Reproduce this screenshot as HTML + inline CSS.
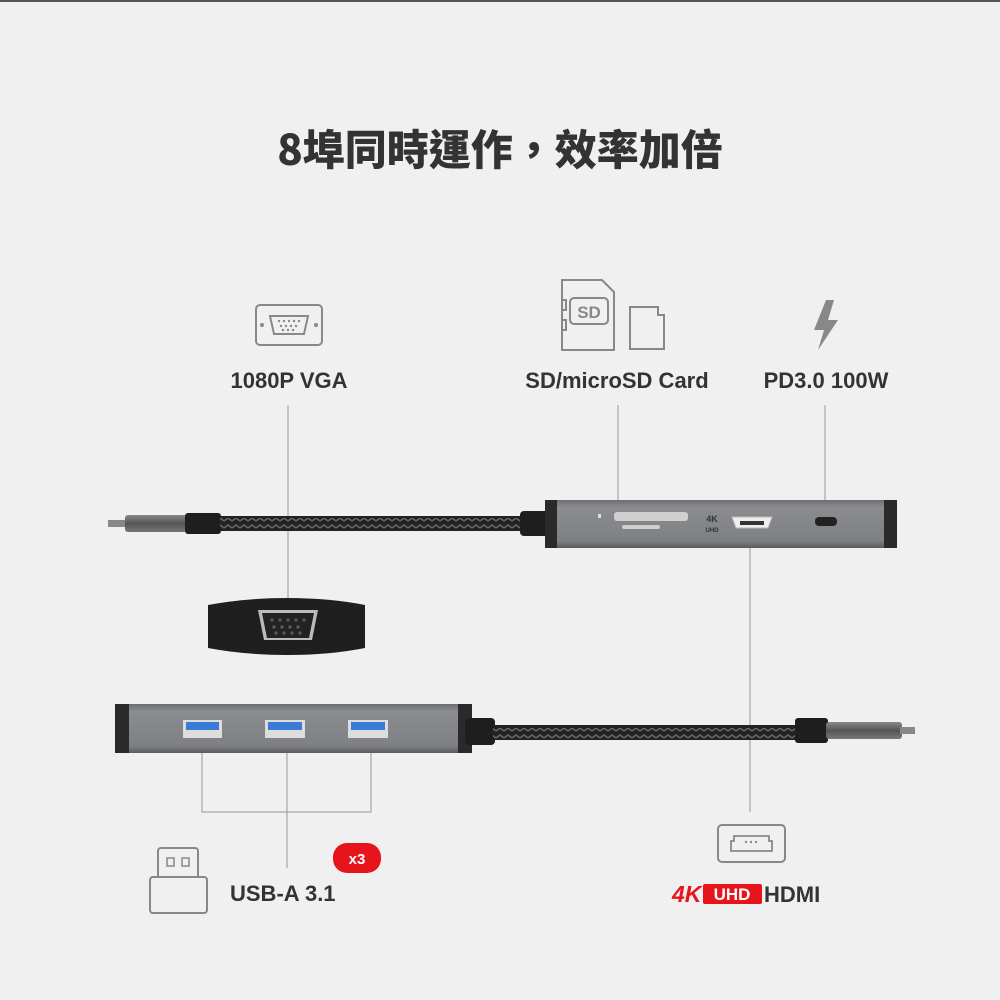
<!DOCTYPE html>
<html><head><meta charset="utf-8"><style>
html,body{margin:0;padding:0;background:#f0f0f0;}
svg{display:block}
text{font-family:"Liberation Sans","Noto Sans CJK TC",sans-serif;font-weight:bold;fill:#333}
</style></head><body>
<svg width="1000" height="1000" viewBox="0 0 1000 1000">
<defs>
<pattern id="braid" width="8" height="14" patternUnits="userSpaceOnUse">
<rect width="8" height="14" fill="#222"/>
<path d="M0 3 L4 0 L8 3 M0 10 L4 7 L8 10" stroke="#666" stroke-width="1.6" fill="none"/>
</pattern>
<linearGradient id="metal" x1="0" y1="0" x2="0" y2="1"><stop offset="0" stop-color="#888"/><stop offset=".5" stop-color="#555"/><stop offset="1" stop-color="#777"/></linearGradient>
<linearGradient id="body" x1="0" y1="0" x2="0" y2="1"><stop offset="0" stop-color="#6c6e72"/><stop offset=".15" stop-color="#8a8c90"/><stop offset=".85" stop-color="#7e8084"/><stop offset="1" stop-color="#5a5c60"/></linearGradient>
</defs>
<rect width="1000" height="1000" fill="#f0f0f0"/>
<rect width="1000" height="2" fill="#555"/>
<text x="500" y="165" text-anchor="middle" font-size="42" style="font-family:'Noto Sans CJK TC',sans-serif;font-weight:900">8埠同時運作，效率加倍</text>

<!-- VGA icon -->
<rect x="256" y="305" width="66" height="40" rx="4" fill="none" stroke="#888" stroke-width="2"/>
<path d="M270 316 h38 l-4 18 h-30 z" fill="none" stroke="#888" stroke-width="2"/>
<circle cx="262" cy="325" r="2" fill="#888"/><circle cx="316" cy="325" r="2" fill="#888"/>
<g fill="#888"><circle cx="279" cy="321" r="1.2"/><circle cx="284" cy="321" r="1.2"/><circle cx="289" cy="321" r="1.2"/><circle cx="294" cy="321" r="1.2"/><circle cx="299" cy="321" r="1.2"/><circle cx="281" cy="326" r="1.2"/><circle cx="286" cy="326" r="1.2"/><circle cx="291" cy="326" r="1.2"/><circle cx="296" cy="326" r="1.2"/><circle cx="283" cy="330" r="1.2"/><circle cx="288" cy="330" r="1.2"/><circle cx="293" cy="330" r="1.2"/></g>
<text x="289" y="388" text-anchor="middle" font-size="22">1080P VGA</text>

<!-- SD icon -->
<path d="M562 280 h40 l12 12 v58 h-52 z" fill="none" stroke="#888" stroke-width="2"/>
<path d="M562 300 h4 v10 h-4 M562 320 h4 v10 h-4" fill="none" stroke="#888" stroke-width="2"/>
<rect x="570" y="298" width="38" height="26" rx="4" fill="none" stroke="#888" stroke-width="2"/>
<text x="589" y="318" text-anchor="middle" font-size="17" style="fill:#888">SD</text>
<path d="M630 307 h28 v8 l6 0 v34 h-34 z" fill="none" stroke="#888" stroke-width="2"/>
<text x="617" y="388" text-anchor="middle" font-size="22">SD/microSD Card</text>

<!-- bolt -->
<path d="M826 300 L814 330 L824 330 L818 350 L838 320 L828 320 L834 300 z" fill="#888"/>
<text x="826" y="388" text-anchor="middle" font-size="22">PD3.0 100W</text>

<!-- leader lines -->
<g stroke="#999" stroke-width="1" fill="none">
<line x1="288" y1="405" x2="288" y2="614"/>
<line x1="618" y1="405" x2="618" y2="520"/>
<line x1="825" y1="405" x2="825" y2="520"/>
<line x1="750" y1="535" x2="750" y2="812"/>
<path d="M202 738 V812 H371 V738 M287 738 V868"/>
</g>

<!-- top cable -->
<rect x="108" y="520" width="20" height="7" fill="#888"/>
<rect x="125" y="515" width="62" height="17" rx="3" fill="url(#metal)"/>
<rect x="185" y="513" width="36" height="21" rx="3" fill="#1e1e1e"/>
<rect x="220" y="516" width="305" height="15" fill="url(#braid)"/>
<rect x="520" y="511" width="30" height="25" rx="4" fill="#1e1e1e"/>
<!-- top hub -->
<rect x="545" y="500" width="352" height="48" rx="2" fill="url(#body)"/>
<rect x="545" y="500" width="12" height="48" fill="#2a2a2a"/>
<rect x="884" y="500" width="13" height="48" fill="#2a2a2a"/>
<rect x="614" y="512" width="74" height="9" rx="3" fill="#cfcfcf"/>
<rect x="622" y="525" width="38" height="4" rx="2" fill="#cfcfcf"/>
<rect x="598" y="514" width="3" height="4" fill="#ddd"/>
<text x="712" y="522" text-anchor="middle" font-size="9" style="fill:#333">4K</text>
<text x="712" y="532" text-anchor="middle" font-size="6" style="fill:#333">UHD</text>
<path d="M732 517 h40 l-4 11 h-32 z" fill="#eee" stroke="#bbb"/>
<rect x="740" y="521" width="24" height="4" fill="#333"/>
<rect x="815" y="517" width="22" height="9" rx="4" fill="#222"/>

<!-- VGA adapter -->
<path d="M208 605 Q245 598 287 598 Q330 598 365 605 V648 Q330 655 287 655 Q245 655 208 648 z" fill="#1f1f1f"/>
<path d="M258 610 h60 l-6 30 h-48 z" fill="#bbb"/>
<path d="M262 613 h52 l-5 25 h-42 z" fill="#222"/>
<g fill="#555"><circle cx="272" cy="620" r="1.8"/><circle cx="280" cy="620" r="1.8"/><circle cx="288" cy="620" r="1.8"/><circle cx="296" cy="620" r="1.8"/><circle cx="304" cy="620" r="1.8"/><circle cx="274" cy="627" r="1.8"/><circle cx="282" cy="627" r="1.8"/><circle cx="290" cy="627" r="1.8"/><circle cx="298" cy="627" r="1.8"/><circle cx="276" cy="633" r="1.8"/><circle cx="284" cy="633" r="1.8"/><circle cx="292" cy="633" r="1.8"/><circle cx="300" cy="633" r="1.8"/></g>

<!-- bottom hub -->
<rect x="115" y="704" width="355" height="49" rx="2" fill="url(#body)"/>
<rect x="115" y="704" width="14" height="49" fill="#2a2a2a"/>
<rect x="458" y="704" width="14" height="49" fill="#2a2a2a"/>
<g>
<rect x="183" y="720" width="39" height="18" fill="#ddd"/><rect x="186" y="722" width="33" height="8" fill="#3a7bd5"/>
<rect x="265" y="720" width="40" height="18" fill="#ddd"/><rect x="268" y="722" width="34" height="8" fill="#3a7bd5"/>
<rect x="348" y="720" width="40" height="18" fill="#ddd"/><rect x="351" y="722" width="34" height="8" fill="#3a7bd5"/>
</g>
<rect x="465" y="718" width="30" height="27" rx="4" fill="#1e1e1e"/>
<rect x="493" y="725" width="305" height="15" fill="url(#braid)"/>
<rect x="795" y="718" width="33" height="25" rx="3" fill="#1e1e1e"/>
<rect x="826" y="722" width="76" height="17" rx="3" fill="url(#metal)"/>
<rect x="900" y="727" width="15" height="7" fill="#888"/>

<!-- USB icon -->
<rect x="158" y="848" width="40" height="30" rx="3" fill="none" stroke="#888" stroke-width="2"/>
<rect x="167" y="858" width="7" height="8" fill="none" stroke="#888" stroke-width="1.5"/>
<rect x="182" y="858" width="7" height="8" fill="none" stroke="#888" stroke-width="1.5"/>
<rect x="150" y="877" width="57" height="36" rx="3" fill="#f0f0f0" stroke="#888" stroke-width="2"/>
<text x="230" y="901" font-size="22">USB-A 3.1</text>
<rect x="333" y="843" width="48" height="30" rx="14" fill="#e8141b"/>
<text x="357" y="864" text-anchor="middle" font-size="15" style="fill:#fff">x3</text>

<!-- HDMI icon -->
<rect x="718" y="825" width="67" height="37" rx="4" fill="none" stroke="#888" stroke-width="2"/>
<path d="M734 836 h35 v5 h3 v10 h-41 v-10 h3 z" fill="none" stroke="#888" stroke-width="1.8"/>
<g fill="#888"><circle cx="746" cy="842" r="1.2"/><circle cx="751" cy="842" r="1.2"/><circle cx="756" cy="842" r="1.2"/></g>
<text x="672" y="902" font-size="23" style="fill:#e8141b;font-style:italic">4K</text>
<rect x="703" y="884" width="59" height="20" rx="2" fill="#e8141b"/>
<text x="732" y="900" text-anchor="middle" font-size="17" style="fill:#fff">UHD</text>
<text x="764" y="902" font-size="22">HDMI</text>
</svg>
</body></html>
